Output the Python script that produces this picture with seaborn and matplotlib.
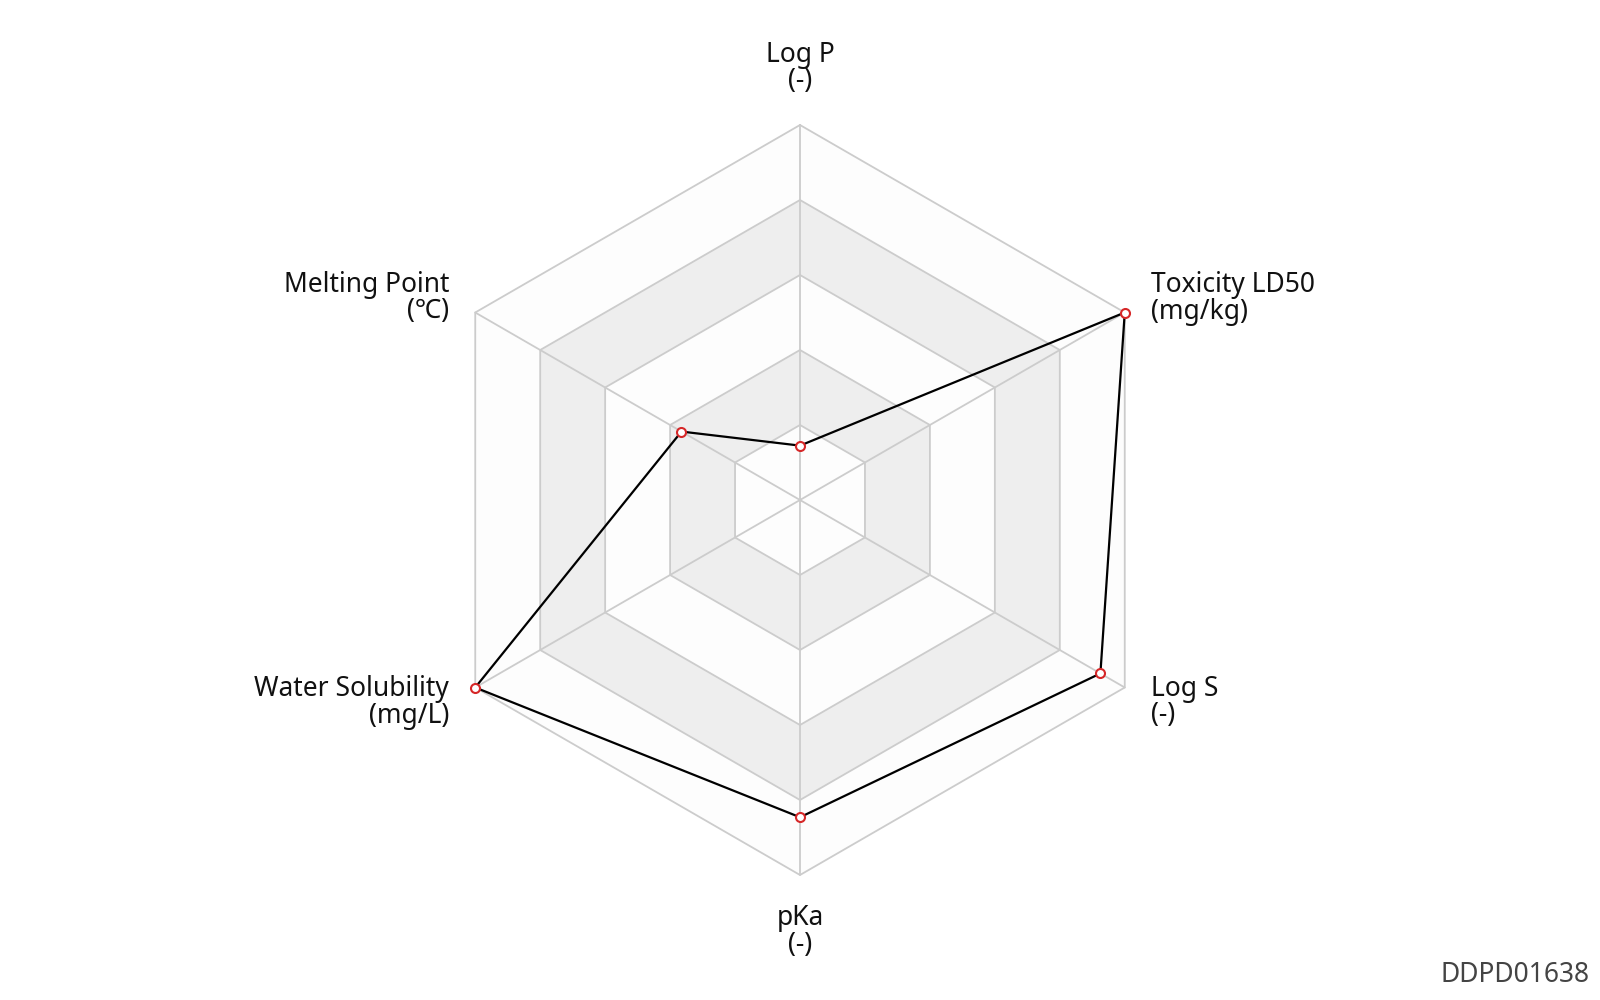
import matplotlib
matplotlib.use("Agg")
import matplotlib.pyplot as plt
import numpy as np
import pandas as pd
import seaborn as sns

sns.set_style("white")
plt.rcParams['font.family'] = ['Noto Sans', 'DejaVu Sans']

# Data (normalised 0..1 per axis, clockwise from the top)
axis_names = ['Log P', 'Toxicity LD50', 'Log S', 'pKa', 'Water Solubility', 'Melting Point']
axis_units = ['(-)', '(mg/kg)', '(-)', '(-)', '(mg/L)', '(℃)']
values = [0.145, 1.0, 0.925, 0.846, 1.0, 0.365]
ring_levels = [0.2, 0.4, 0.6, 0.8, 1.0]
compound_id = 'DDPD01638'

# layout (pixel-like coordinates, y pointing down)
CX, CY, R = 800, 500, 375
n = len(axis_names)
theta = np.deg2rad(np.arange(n) * 360.0 / n)


def to_xy(r, th):
    return CX + r * R * np.sin(th), CY - r * R * np.cos(th)


fig = plt.figure(figsize=(16, 10), dpi=100)
ax = fig.add_axes([0, 0, 1, 1])
ax.set_xlim(0, 1600)
ax.set_ylim(1000, 0)
ax.axis('off')

# split areas, outer first so inner ones paint over
band_colors = ['#fdfdfd', '#eeeeee']
for k in range(len(ring_levels) - 1, -1, -1):
    xs, ys = to_xy(ring_levels[k], theta)
    ax.fill(xs, ys, color=band_colors[k % 2], lw=0, zorder=1)

# grid rings
for lev in ring_levels:
    xs, ys = to_xy(lev, np.append(theta, theta[0]))
    ax.plot(xs, ys, color='#cccccc', lw=1.3, zorder=2)

# spokes
for th in theta:
    x1, y1 = to_xy(1.0, th)
    ax.plot([CX, x1], [CY, y1], color='#cccccc', lw=1.3, zorder=2)

# data polygon
px, py = to_xy(np.array(values), theta)
df = pd.DataFrame({'x': np.append(px, px[0]), 'y': np.append(py, py[0])})
sns.lineplot(data=df, x='x', y='y', sort=False, estimator=None,
             color='black', lw=1.6, ax=ax, zorder=3)
sns.scatterplot(data=df.iloc[:-1], x='x', y='y', s=42, marker='o',
                facecolor='white', edgecolor='#d62728', linewidth=1.5,
                ax=ax, zorder=4)
ax.set_xlim(0, 1600)
ax.set_ylim(1000, 0)

# axis names
offsets = [(0, -70, 'center'), (26, -27.5, 'left'), (26, 1.5, 'left'),
           (0, 43, 'center'), (-26, 1.5, 'right'), (-26, -27.5, 'right')]
for name, unit, th, (dx, dy, ha) in zip(axis_names, axis_units, theta, offsets):
    vx, vy = to_xy(1.0, th)
    ax.text(vx + dx, vy + dy, name, ha=ha, va='center', fontsize=19, color='#111111')
    ax.text(vx + dx, vy + dy + 26.5, unit, ha=ha, va='center', fontsize=19, color='#111111')

ax.text(1590, 975, compound_id, ha='right', va='center', fontsize=19, color='#444444')

fig.savefig('out.png', dpi=100)
